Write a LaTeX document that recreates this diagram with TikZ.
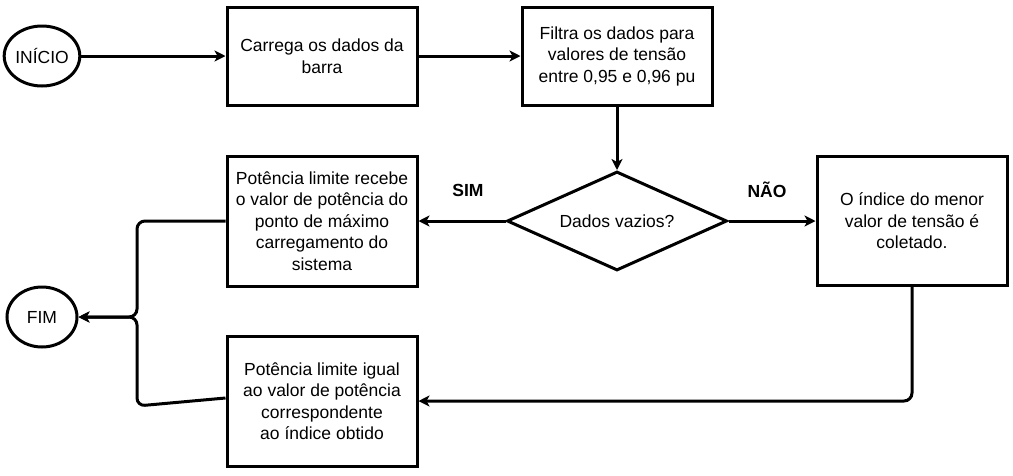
\documentclass[tikz,border=0pt]{standalone}
\usepackage{fontspec}
\setmainfont{Liberation Sans}
\usetikzlibrary{shapes.geometric,arrows.meta}
\begin{document}
\begin{tikzpicture}[x=1pt,y=-1pt,
  txt/.style={font=\fontsize{17.5}{21.5}\selectfont, align=center, text=black},
  box/.style={txt, draw, line width=3pt, minimum width=190pt, inner sep=0pt},
  term/.style={txt, draw, ellipse, line width=3pt, minimum width=70pt, minimum height=60pt, inner sep=0pt},
  dec/.style={txt, draw, diamond, line width=3pt, minimum width=220pt, minimum height=99pt, inner sep=0pt, aspect=2.2},
  conn/.style={line width=3pt, -{Stealth[length=11pt,width=11pt,inset=3pt]}, rounded corners=8pt},
  lbl/.style={font=\fontsize{17.5}{19}\selectfont\bfseries}
]
\useasboundingbox (0,0) rectangle (1013,475);
\node[term] (ini) at (42,56) {INÍCIO};
\node[box, minimum height=98pt] (carrega) at (322,56) {Carrega os dados da\\barra};
\node[box, minimum height=98pt] (filtra) at (617,56) {Filtra os dados para\\valores de tensão\\entre 0,95 e 0,96 pu};
\node[dec] (vazio) at (617,221) {Dados vazios?};
\node[box, minimum height=129pt] (indice) at (912,221) {O índice do menor\\valor de tensão é\\coletado.};
\node[box, minimum height=130pt] (recebe) at (322,221) {Potência limite recebe\\o valor de potência do\\ponto de máximo\\carregamento do\\sistema};
\node[box, minimum height=130pt] (igual) at (322,401) {Potência limite igual\\ao valor de potência\\correspondente\\ao índice obtido};
\node[term] (fim) at (42,317) {FIM};
\node[lbl] (sim) at (468,190) {SIM};
\node[lbl] (nao) at (767,190) {NÃO};
\coordinate (j1) at (137,221);
\coordinate (j0) at (137,317);
\coordinate (j2) at (137,406);
\coordinate (r1) at (912,401);
\draw[conn] (ini) -- (carrega);
\draw[conn] (carrega) -- (filtra);
\draw[conn] (filtra) -- (vazio);
\draw[conn] (vazio) -- (recebe);
\draw[conn] (vazio) -- (indice);
\draw[conn] (indice.south) -- (r1) -- (igual.east);
\draw[conn] (recebe.west) -- (j1) -- (j0) -- (fim.east);
\draw[conn] ([yshift=3pt]igual.west) -- (j2) -- (j0) -- (fim.east);
\end{tikzpicture}
\end{document}
